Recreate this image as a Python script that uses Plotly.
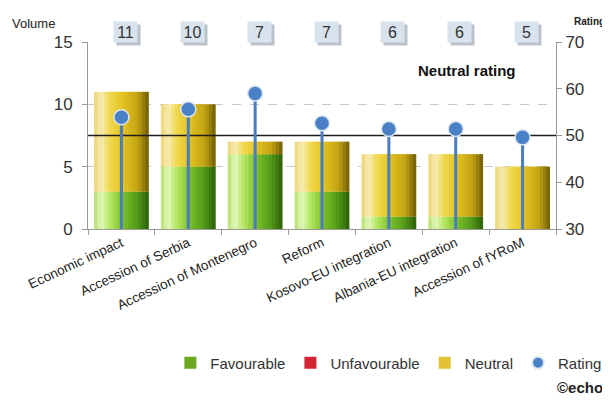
import plotly.graph_objects as go

# ---------------- data ----------------
categories = ["Economic impact", "Accession of Serbia", "Accession of Montenegro", "Reform",
              "Kosovo-EU integration", "Albania-EU integration", "Accession of fYRoM"]
favourable = [3, 5, 6, 3, 1, 1, 0]
unfavourable = [0, 0, 0, 0, 0, 0, 0]
neutral = [8, 5, 1, 4, 5, 5, 5]
rating = [53.9, 55.6, 59.0, 52.6, 51.4, 51.4, 49.6]
neutral_rating = 50
volume_ticks = [0, 5, 10, 15]
rating_ticks = [30, 40, 50, 60, 70]

totals = [f + u + n for f, u, n in zip(favourable, unfavourable, neutral)]
xs = list(range(len(categories)))

FONT = "Liberation Sans, Arial, sans-serif"

# ---------------- gradient helpers ----------------
def hex2rgb(h):
    h = h.lstrip("#")
    return tuple(int(h[i:i + 2], 16) for i in (0, 2, 4))

def interp(stops, t):
    for (p0, c0), (p1, c1) in zip(stops[:-1], stops[1:]):
        if p0 <= t <= p1:
            a, b = hex2rgb(c0), hex2rgb(c1)
            f = (t - p0) / (p1 - p0) if p1 > p0 else 0
            return "rgb(%d,%d,%d)" % tuple(round(a[k] + (b[k] - a[k]) * f) for k in range(3))
    return stops[-1][1]

green_stops = [(0.0, "#b4df6c"), (0.13, "#e4f9bd"), (0.28, "#b6e866"), (0.5, "#82c42c"),
               (0.8, "#4f9717"), (1.0, "#2d5e08")]
yellow_stops = [(0.0, "#ecd470"), (0.13, "#f7ecb8"), (0.28, "#f1d952"), (0.5, "#e6c424"),
                (0.8, "#c3a312"), (1.0, "#6c5c06")]

BAR_W = 0.82
N = 16

fig = go.Figure()

def add_gradient_bars(values, base, stops, name, legend_color):
    step = BAR_W / N
    for i in range(N):
        off = -BAR_W / 2 + i * step
        w = min(step * 1.6, BAR_W / 2 - off)
        fig.add_trace(go.Bar(
            x=xs, y=values, base=base, width=w, offset=off,
            marker=dict(color=interp(stops, (i + 0.5) / N), line=dict(width=0)),
            name=name, legendgroup=name, showlegend=False, hoverinfo="skip",
            yaxis="y",
        ))
    # legend entry
    fig.add_trace(go.Bar(x=[None], y=[None], name=name, legendgroup=name,
                         marker=dict(color=legend_color, line=dict(width=0)), yaxis="y"))

add_gradient_bars(favourable, [0] * len(xs), green_stops, "Favourable", "#6aa820")
fig.add_trace(go.Bar(x=xs, y=unfavourable, base=favourable, width=BAR_W, name="Unfavourable",
                     marker=dict(color="#d42333", line=dict(width=0)), yaxis="y"))
neutral_base = [f + u for f, u in zip(favourable, unfavourable)]
add_gradient_bars(neutral, neutral_base, yellow_stops, "Neutral", "#e2c232")

# neutral rating reference line
fig.add_trace(go.Scatter(x=[-0.5, len(xs) - 0.5], y=[neutral_rating, neutral_rating],
                         mode="lines", line=dict(color="#1e1e1e", width=1.5),
                         showlegend=False, hoverinfo="skip", yaxis="y2"))

# rating lollipops
fig.add_trace(go.Scatter(
    x=xs, y=rating, mode="markers", name="Rating", yaxis="y2",
    marker=dict(size=15, color="#4a80c6", line=dict(color="#dde7f2", width=1.5)),
    error_y=dict(type="data", symmetric=False, array=[0] * len(xs),
                 arrayminus=[r - rating_ticks[0] for r in rating],
                 color="#4a7cc0", thickness=3, width=0),
))

# ---------------- annotations ----------------
ann = []
for i, t in enumerate(totals):
    ann.append(dict(x=i, xref="x", xshift=7, yshift=-3, y=1.112, yref="paper", text="",
                    showarrow=False, bgcolor="#bcc2ca", width=23, height=20, borderpad=0))
    ann.append(dict(x=i, xref="x", xshift=4, y=1.112, yref="paper", text=str(t),
                    showarrow=False, bgcolor="#d9e3ee", width=23, height=20, borderpad=0,
                    font=dict(family=FONT, size=16, color="#333333")))
ann += [
    dict(x=-0.1667, xref="paper", xanchor="left", y=1.10, yref="paper", yanchor="middle",
         text="Volume", showarrow=False, font=dict(family=FONT, size=13, color="#222222")),
    dict(x=1.034, xref="paper", xanchor="left", y=1.112, yref="paper", yanchor="middle",
         text="<b>Rating</b>", showarrow=False, font=dict(family=FONT, size=10, color="#222222")),
    dict(x=0.9188, xref="paper", xanchor="right", y=0.845, yref="paper", yanchor="middle",
         text="<b>Neutral rating</b>", showarrow=False, font=dict(family=FONT, size=15, color="#111111")),
    dict(x=1.105, xref="paper", xanchor="right", y=-0.85, yref="paper", yanchor="middle",
         text="<b>©echo</b>", showarrow=False, font=dict(family=FONT, size=15, color="#222222")),
]

fig.update_layout(
    width=602, height=395,
    margin=dict(l=80, r=54, t=34, b=174, autoexpand=False),
    paper_bgcolor="white", plot_bgcolor="white",
    barmode="overlay",
    font=dict(family=FONT, color="#333333"),
    showlegend=True,
    legend=dict(orientation="h", x=0.176, xanchor="left", y=-0.717, yanchor="middle",
                font=dict(family=FONT, size=15, color="#333333"),
                itemsizing="constant", itemwidth=30, traceorder="normal",
                bgcolor="rgba(0,0,0,0)"),
    xaxis=dict(range=[-0.5, len(xs) - 0.5], tickmode="array", tickvals=xs, ticktext=categories,
               tickangle=-25, ticks="", showgrid=False, zeroline=False, automargin=False,
               showline=True, linecolor="#999999", linewidth=1,
               tickfont=dict(family=FONT, size=13.5, color="#222222"),
               minor=dict(tickmode="array", tickvals=[i - 0.5 for i in range(len(xs) + 1)],
                          ticks="outside", ticklen=5, tickcolor="#999999", showgrid=False)),
    yaxis=dict(range=[volume_ticks[0], volume_ticks[-1]], tickmode="array", tickvals=volume_ticks,
               showgrid=True, gridcolor="#c8c8c8", griddash="dash", gridwidth=1, automargin=False,
               zeroline=False, showline=True, linecolor="#999999", linewidth=1,
               ticks="outside", ticklen=5, tickcolor="#999999", ticklabelstandoff=6,
               tickfont=dict(family=FONT, size=17, color="#333333")),
    yaxis2=dict(range=[rating_ticks[0], rating_ticks[-1]], tickmode="array", tickvals=rating_ticks,
                overlaying="y", side="right", showgrid=False, zeroline=False, automargin=False,
                showline=True, linecolor="#999999", linewidth=1,
                ticks="outside", ticklen=5, tickcolor="#999999",
                tickfont=dict(family=FONT, size=17, color="#333333")),
    annotations=ann,
)

fig.write_html("out.html")
